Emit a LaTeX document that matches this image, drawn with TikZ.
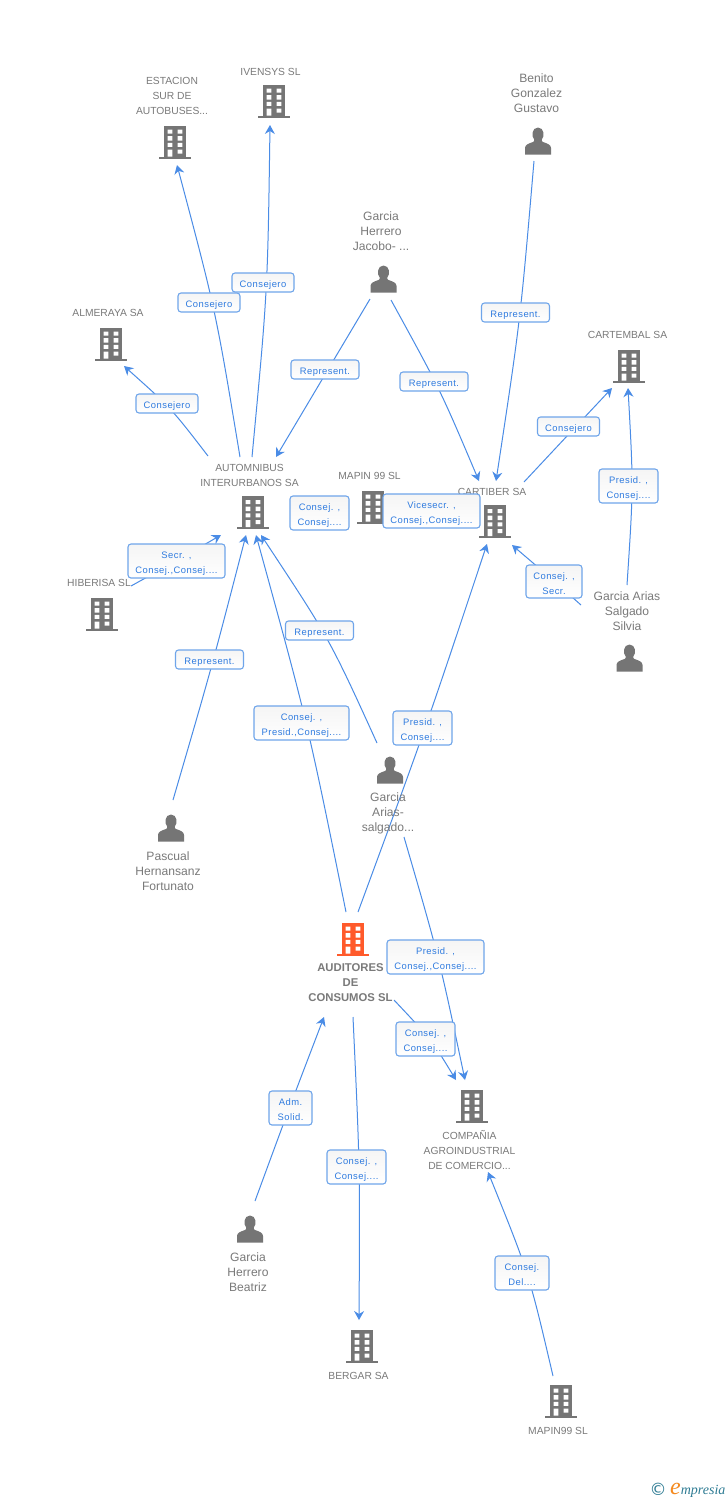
\documentclass[tikz,border=0pt]{standalone}
\usepackage{fontspec}
\setmainfont{Liberation Sans}
\newfontfamily\symfont{DejaVu Sans}
\newfontfamily\logofont{Liberation Serif}
\newfontfamily\boxfont[LetterSpace=5]{Liberation Sans}
\usetikzlibrary{arrows.meta,calc,backgrounds}
\definecolor{edgeblue}{HTML}{4A8CE6}
\definecolor{boxline}{HTML}{6FA5EA}
\definecolor{boxtext}{HTML}{2F7BDF}
\definecolor{icongray}{HTML}{757575}
\definecolor{labelgray}{HTML}{7A7A7A}
\definecolor{orangeicon}{HTML}{FF5A2B}
\definecolor{logoteal}{HTML}{2F7C94}
\definecolor{logoorange}{HTML}{F58A1F}
\tikzset{
  x=1pt,y=-1pt,
  edgeline/.style={draw=edgeblue,line width=1pt,-{Stealth[length=9pt,width=10pt,inset=3pt]}},
  relbox/.style={draw=boxline,line width=1.1pt,rounded corners=3pt,top color=black!4,bottom color=white,
    text=boxtext,font=\boxfont\fontsize{9.4}{15}\selectfont,align=center,inner sep=0pt},
  entlabel/.style={text=labelgray,font=\fontsize{10.3}{15}\selectfont,align=center,inner sep=0pt,yshift=-1pt},
  perlabel/.style={text=labelgray,font=\fontsize{12.1}{15}\selectfont,align=center,inner sep=0pt,yshift=-1pt},
  mainlabel/.style={text=labelgray,font=\fontsize{11.3}{15}\selectfont\bfseries,align=center,inner sep=0pt,yshift=-1pt},
  iconanchor/.style={inner sep=0pt,minimum width=32pt,minimum height=33pt},
}
% building icon
\newcommand{\bldg}[4][icongray]{%
  \node[iconanchor] (#2) at (#3,#4) {};
  \begin{scope}[shift={(#2.center)}]
    \fill[#1] (-11,-16.5) rectangle (11,15);
    \fill[#1] (-16,14.5) rectangle (16,16.5);
    \fill[white] (-7.3,-12.5) rectangle (-2.7,-8.5) (2.7,-12.5) rectangle (7.3,-8.5)
                 (-7.3,-5.8) rectangle (-2.7,-1.5) (2.7,-5.8) rectangle (7.3,-1.5)
                 (-7.3,0.8) rectangle (-2.7,4.8) (2.7,0.8) rectangle (7.3,4.8)
                 (-7.3,7.5) rectangle (-2.7,14.5) (2.7,7.5) rectangle (7.3,11.5);
  \end{scope}}
% person icon
\newcommand{\persona}[3]{%
  \node[inner sep=0pt,minimum width=26pt,minimum height=27pt] (#1) at (#2,#3) {};
  \begin{scope}[shift={(#1.center)}]
    \fill[icongray] (-13,13.5) -- (-13,7) .. controls (-13,3.5) and (-9,2.5) .. (-5,1)
      .. controls (-3.5,0.3) and (-3.5,-0.5) .. (-4,-2)
      .. controls (-6.5,-4) and (-6.5,-13.5) .. (0,-13.5)
      .. controls (6.5,-13.5) and (6.5,-4) .. (4,-2)
      .. controls (3.5,-0.5) and (3.5,0.3) .. (5,1)
      .. controls (9,2.5) and (13,3.5) .. (13,7) -- (13,13.5) -- cycle;
  \end{scope}}
% connector: id, start, point on the curve, end
\newcommand{\lnk}[4]{%
  \coordinate (#1s) at (#2);
  \coordinate (#1m) at (#3);
  \coordinate (#1e) at (#4);
  \begin{pgfonlayer}{background}
    \draw[edgeline] (#1s) .. controls ($1.3333*(#1m)-0.16667*(#1s)-0.16667*(#1e)$) .. (#1e);
  \end{pgfonlayer}}
\newcommand{\rbox}[6]{\node[relbox,minimum width=#4pt,minimum height=#5pt] (#1) at (#2,#3) {\rule{0pt}{11pt}#6};}
\begin{document}
\begin{tikzpicture}
\useasboundingbox (0,0) rectangle (728,1500);
\begin{pgfonlayer}{background}
  \fill[white] (0,0) rectangle (728,1500);
\end{pgfonlayer}

% entities
\bldg{est}{175}{142}
\bldg{ive}{274}{101}
\persona{ben}{538}{141}
\persona{jac}{383.5}{279}
\bldg{alm}{111}{344}
\bldg{car}{629}{366}
\bldg{aut}{253}{512.5}
\bldg{map}{373}{507}
\bldg{cab}{495}{521.5}
\bldg{hib}{102}{614}
\persona{sil}{629.5}{658}
\persona{gar}{390}{770}
\persona{pas}{171}{828}
\bldg[orangeicon]{aud}{353}{939}
\bldg{com}{472}{1106}
\persona{bea}{250}{1229}
\bldg{ber}{362}{1346}
\bldg{mpn}{561}{1401}

% labels
\node[entlabel] (estL) at (172,95) {ESTACION\\SUR DE\\AUTOBUSES...};
\node[entlabel] (iveL) at (270.5,70.5) {IVENSYS SL};
\node[perlabel] (benL) at (536.5,92) {Benito\\Gonzalez\\Gustavo};
\node[perlabel] (jacL) at (381,230) {Garcia\\Herrero\\Jacobo- ...};
\node[entlabel] (almL) at (108,312) {ALMERAYA SA};
\node[entlabel] (carL) at (627.5,334) {CARTEMBAL SA};
\node[entlabel] (autL) at (249.5,474) {AUTOMNIBUS\\INTERURBANOS SA};
\node[entlabel] (mapL) at (369.5,475) {MAPIN 99  SL};
\node[entlabel] (cabL) at (492,490.5) {CARTIBER SA};
\node[entlabel] (hibL) at (99,582) {HIBERISA SL};
\node[perlabel] (silL) at (627,610) {Garcia Arias\\Salgado\\Silvia};
\node[perlabel] (garL) at (388,812) {Garcia\\Arias-\\salgado...};
\node[perlabel] (pasL) at (168,870) {Pascual\\Hernansanz\\Fortunato};
\node[mainlabel] (audL) at (350.5,982) {AUDITORES\\DE\\CONSUMOS SL};
\node[entlabel] (comL) at (469.5,1149) {COMPAÑIA\\AGROINDUSTRIAL\\DE COMERCIO...};
\node[perlabel] (beaL) at (248,1271) {Garcia\\Herrero\\Beatriz};
\node[entlabel] (berL) at (358.5,1375) {BERGAR SA};
\node[entlabel] (mpnL) at (558,1430) {MAPIN99  SL};

% relation boxes
\rbox{b1}{209}{302.5}{62}{19}{Consejero}
\rbox{b2}{263}{282.5}{62}{19}{Consejero}
\rbox{b3}{515.5}{312.5}{68}{19}{Represent.}
\rbox{b4}{325}{369.5}{68}{19}{Represent.}
\rbox{b5}{434}{381.5}{68}{19}{Represent.}
\rbox{b6}{167}{403.5}{62}{19}{Consejero}
\rbox{b7}{568.5}{426.5}{62}{19}{Consejero}
\rbox{b8}{628.5}{486}{59}{34}{Presid. ,\\Consej....}
\rbox{b9}{319.5}{513}{59}{34}{Consej. ,\\Consej....}
\rbox{b10}{431.5}{511}{97}{34}{Vicesecr. ,\\Consej.,Consej....}
\rbox{b11}{176.5}{561}{97}{34}{Secr. ,\\Consej.,Consej....}
\rbox{b12}{554}{581.5}{56}{33}{Consej. ,\\Secr.}
\rbox{b13}{209.5}{659.5}{68}{19}{Represent.}
\rbox{b14}{319.5}{630.5}{68}{19}{Represent.}
\rbox{b15}{301.5}{723}{95}{34}{Consej. ,\\Presid.,Consej....}
\rbox{b16}{422.5}{728}{59}{34}{Presid. ,\\Consej....}
\rbox{b17}{435.5}{957}{97}{34}{Presid. ,\\Consej.,Consej....}
\rbox{b18}{425.5}{1039}{59}{34}{Consej. ,\\Consej....}
\rbox{b19}{290.5}{1108}{43}{34}{Adm.\\Solid.}
\rbox{b20}{356.5}{1167}{59}{34}{Consej. ,\\Consej....}
\rbox{b21}{522}{1273}{54}{34}{Consej.\\Del....}

% connectors
\lnk{a}{240,457}{214,311}{177,165}
\lnk{b}{252,457}{266,291}{270,125}
\lnk{c}{208,456}{170,409}{124,366}
\lnk{d}{370,299}{323,378}{276,457}
\lnk{e}{391,300}{439,390}{479,481}
\lnk{f}{534,161}{519,321}{496,481}
\lnk{g}{524,482}{568,435}{612,388}
\lnk{h}{627,585}{632,487}{628,388}
\lnk{i}{581,605}{547,575}{512,545}
\lnk{j}{131,586}{176,561}{221,535}
\lnk{k}{173,800}{211,668}{246,535}
\lnk{l}{346,912}{306,723}{256,535}
\lnk{m}{377,743}{327,639}{261,535}
\lnk{n}{358,912}{425,728}{487,544}
\lnk{o}{404,837}{438,958}{465,1080}
\lnk{p}{394,1000}{430,1040}{456,1080}
\lnk{q}{255,1201}{289,1109}{324,1017}
\lnk{r}{353,1017}{359,1168}{359,1320}
\lnk{s}{553,1376}{527,1274}{488,1172}

% logo
\node[text=logoteal,inner sep=0pt,font=\symfont\fontsize{17}{17}\selectfont] (copy) at (658,1489) {©};
\node[inner sep=0pt,anchor=base west] (logo) at (670,1494)
  {\logofont\itshape{\color{logoorange}\fontsize{24}{24}\selectfont e}{\color{logoteal}\fontsize{14}{14}\selectfont mpresia}};
\end{tikzpicture}
\end{document}
